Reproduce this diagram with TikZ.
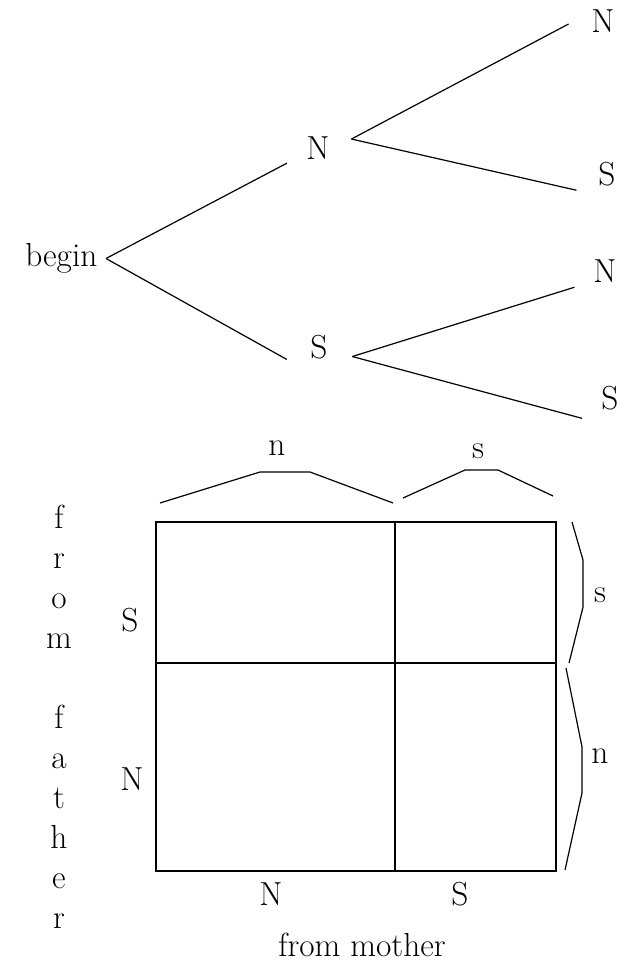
\documentclass[tikz,border=0pt]{standalone}
\usepackage{fontspec}

\begin{document}
\begin{tikzpicture}[x=0.75pt,y=-0.75pt,line width=0.9pt,
  every node/.style={font=\fontsize{25}{30}\selectfont},
  lbl/.style={circle,minimum size=51pt,inner sep=0pt}]
\useasboundingbox (0,0) rectangle (618,962);
% tree
\node[anchor=east,inner sep=6pt] (begin) at (106,258.5) {begin};
\node[lbl] (n1) at (318,148) {N};
\node[lbl] (s1) at (319,347) {S};
\node[lbl] (nn) at (603,21) {N};
\node[lbl] (ns) at (607,174) {S};
\node[lbl] (sn) at (605,271) {N};
\node[lbl] (ss) at (610,398) {S};
\draw (begin.east) -- (n1.206);
\draw (begin.east) -- (s1.201);
\draw (n1.15) -- (nn.185);
\draw (n1.15) -- (ns.208);
\draw (s1.344) -- (sn.208);
\draw (s1.344) -- (ss.216);
% square
\draw[line width=1.1pt] (156,522) rectangle (556,871);
\draw[line width=1.1pt] (395,522) -- (395,871) (156,663) -- (556,663);
\node (colN) at (271,894) {N};
\node (colS) at (460,894) {S};
\node[inner sep=0pt] (mother) at (362,945) {from mother};
\node (rowS) at (130,620) {S};
\node (rowN) at (132,779) {N};
\node[align=center,inner sep=0pt] (father) at (59,716.5) {f\\r\\o\\m\\[30pt]f\\a\\t\\h\\e\\r};
% braces
\draw (160,503) -- (260,472) -- (310,472) -- (393,503);
\draw (403,498) -- (465,470) -- (498,470) -- (553,496);
\draw (572,522) -- (583,560) -- (583,607) -- (569,663);
\draw (566,668) -- (582,747) -- (582,793) -- (565,870);
\node (bn) at (277,448) {n};
\node (bs) at (478,451) {s};
\node (rs) at (600,595) {s};
\node (rn) at (600,756) {n};
\end{tikzpicture}
\end{document}
